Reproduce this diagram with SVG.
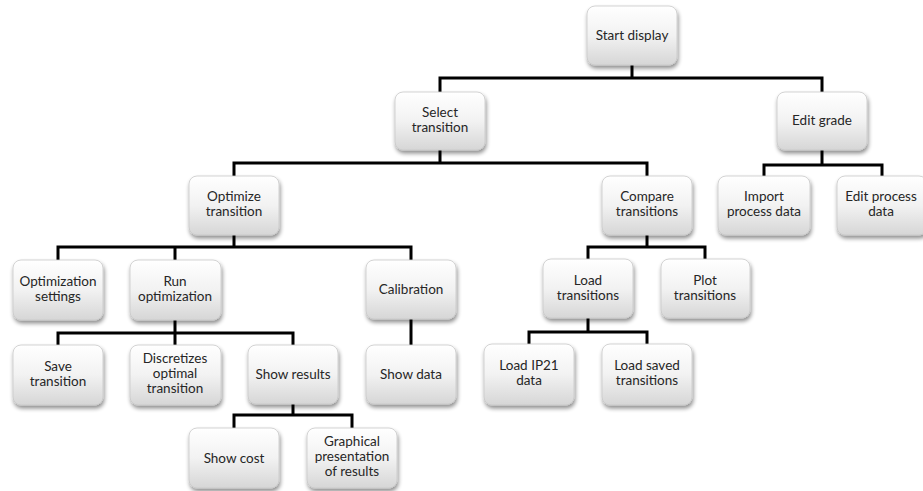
<svg xmlns="http://www.w3.org/2000/svg" width="923" height="491" viewBox="0 0 923 491">
<defs>
<linearGradient id="g" x1="0" y1="0" x2="0" y2="1">
<stop offset="0" stop-color="#ffffff"/>
<stop offset="0.5" stop-color="#f2f2f2"/>
<stop offset="1" stop-color="#d6d6d6"/>
</linearGradient>
<filter id="sh" x="-20%" y="-20%" width="140%" height="150%">
<feGaussianBlur in="SourceAlpha" stdDeviation="2"/>
<feOffset dx="1" dy="3" result="b"/>
<feComponentTransfer><feFuncA type="linear" slope="0.45"/></feComponentTransfer>
<feMerge><feMergeNode/><feMergeNode in="SourceGraphic"/></feMerge>
</filter>
</defs>
<style>
.box{fill:url(#g);stroke:#c8c8c8;stroke-width:0.8;filter:url(#sh)}
.t{font-family:Lato,"Open Sans",sans-serif;font-size:13.5px;fill:#262626;text-anchor:middle}
.c{fill:none;stroke:#000;stroke-width:3}
</style>
<rect width="923" height="491" fill="#fff"/>
<g id="connectors">
<path class="c" d="M632 65V78M440 92V78H822V92"/>
<path class="c" d="M440 150V163M234 176V163H647V176"/>
<path class="c" d="M822 150V165M764 176V165H882V176"/>
<path class="c" d="M234 235V247M58 260V247H411V260M175 247V260"/>
<path class="c" d="M647 235V247M588 259V247H705V259"/>
<path class="c" d="M588 318V332M529 344V332H647V344"/>
<path class="c" d="M175 320V333M58 345V333H293V345M175 333V345"/>
<path class="c" d="M411 319V345"/>
<path class="c" d="M293 404V415M234 428V415H352V428"/>
</g>
<g id="start"><rect class="box" x="587" y="6" width="90" height="59" rx="8"/><text class="t" x="632" y="40">Start display</text></g>
<g id="select"><rect class="box" x="395" y="92" width="90" height="58" rx="8"/><text class="t" x="440" y="117">Select</text><text class="t" x="440" y="132">transition</text></g>
<g id="editgrade"><rect class="box" x="777" y="92" width="90" height="58" rx="8"/><text class="t" x="822" y="125">Edit grade</text></g>
<g id="optimize"><rect class="box" x="189" y="176" width="90" height="59" rx="8"/><text class="t" x="234" y="201">Optimize</text><text class="t" x="234" y="216">transition</text></g>
<g id="compare"><rect class="box" x="602" y="176" width="90" height="59" rx="8"/><text class="t" x="647" y="201">Compare</text><text class="t" x="647" y="216">transitions</text></g>
<g id="import"><rect class="box" x="718" y="176" width="92" height="59" rx="8"/><text class="t" x="764" y="201">Import</text><text class="t" x="764" y="216">process data</text></g>
<g id="editprocess"><rect class="box" x="837" y="176" width="90" height="59" rx="8"/><text class="t" x="881" y="201">Edit process</text><text class="t" x="881" y="216">data</text></g>
<g id="optsettings"><rect class="box" x="13" y="260" width="90" height="60" rx="8"/><text class="t" x="58" y="286">Optimization</text><text class="t" x="58" y="301">settings</text></g>
<g id="runopt"><rect class="box" x="130" y="260" width="91" height="60" rx="8"/><text class="t" x="175" y="286">Run</text><text class="t" x="175" y="301">optimization</text></g>
<g id="calibration"><rect class="box" x="366" y="260" width="90" height="59" rx="8"/><text class="t" x="411" y="294">Calibration</text></g>
<g id="loadtrans"><rect class="box" x="543" y="259" width="90" height="59" rx="8"/><text class="t" x="588" y="285">Load</text><text class="t" x="588" y="300">transitions</text></g>
<g id="plottrans"><rect class="box" x="661" y="259" width="89" height="59" rx="8"/><text class="t" x="705" y="285">Plot</text><text class="t" x="705" y="300">transitions</text></g>
<g id="savetrans"><rect class="box" x="13" y="345" width="90" height="60" rx="8"/><text class="t" x="58" y="371">Save</text><text class="t" x="58" y="386">transition</text></g>
<g id="discretizes"><rect class="box" x="130" y="345" width="91" height="60" rx="8"/><text class="t" x="175" y="363">Discretizes</text><text class="t" x="175" y="378">optimal</text><text class="t" x="175" y="393">transition</text></g>
<g id="showresults"><rect class="box" x="248" y="345" width="90" height="59" rx="8"/><text class="t" x="293" y="379">Show results</text></g>
<g id="showdata"><rect class="box" x="366" y="345" width="90" height="59" rx="8"/><text class="t" x="411" y="379">Show data</text></g>
<g id="loadip21"><rect class="box" x="484" y="344" width="90" height="61" rx="8"/><text class="t" x="529" y="370">Load IP21</text><text class="t" x="529" y="385">data</text></g>
<g id="loadsaved"><rect class="box" x="602" y="344" width="90" height="61" rx="8"/><text class="t" x="647" y="370">Load saved</text><text class="t" x="647" y="385">transitions</text></g>
<g id="showcost"><rect class="box" x="189" y="428" width="90" height="60" rx="8"/><text class="t" x="234" y="463">Show cost</text></g>
<g id="graphical"><rect class="box" x="307" y="428" width="90" height="60" rx="8"/><text class="t" x="352" y="446">Graphical</text><text class="t" x="352" y="461">presentation</text><text class="t" x="352" y="476">of results</text></g>
</svg>
